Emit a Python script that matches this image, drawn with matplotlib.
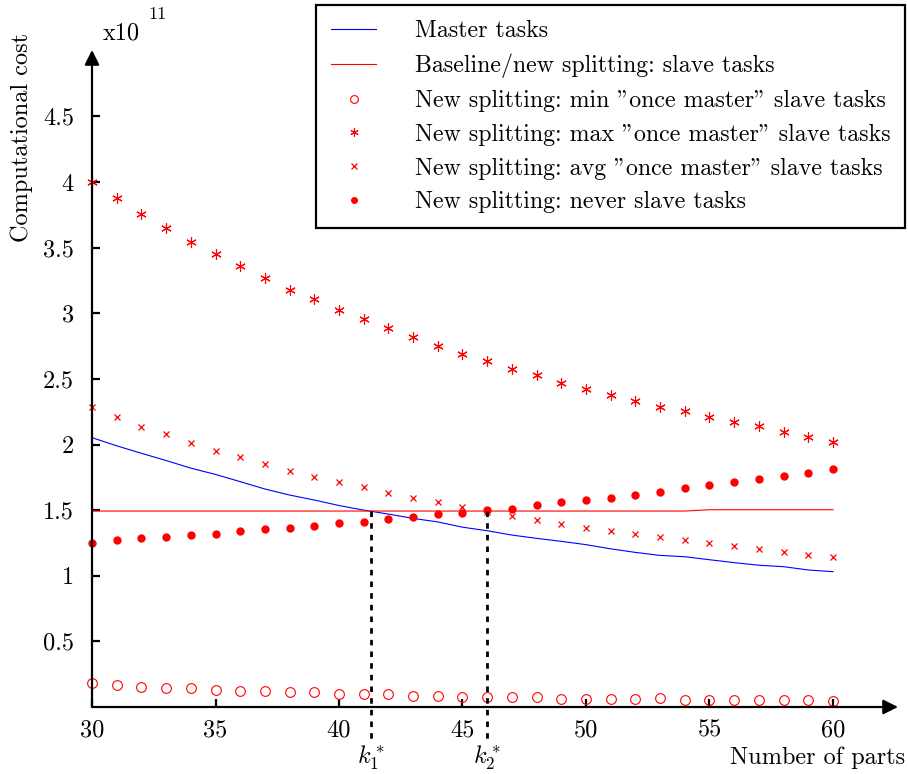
import numpy as np
import matplotlib
matplotlib.use("Agg")
import matplotlib.pyplot as plt

plt.rcParams['font.family'] = 'serif'
plt.rcParams['font.serif'] = ['cmr10']
plt.rcParams['mathtext.fontset'] = 'cm'
plt.rcParams['axes.formatter.use_mathtext'] = True

parts = np.arange(30, 61)

master = [2.052, 1.99, 1.933, 1.878, 1.82, 1.772, 1.717, 1.661, 1.615, 1.577,
          1.535, 1.50, 1.47, 1.437, 1.41, 1.37, 1.343, 1.31, 1.285, 1.262,
          1.237, 1.205, 1.178, 1.155, 1.145, 1.122, 1.10, 1.08, 1.069, 1.044, 1.031]
baseline = [1.493] * 25 + [1.503] * 6
min_once = [0.180, 0.168, 0.155, 0.145, 0.142, 0.132, 0.122, 0.122, 0.112, 0.112,
            0.099, 0.099, 0.097, 0.086, 0.086, 0.076, 0.075, 0.076, 0.076, 0.063,
            0.063, 0.063, 0.063, 0.065, 0.053, 0.053, 0.053, 0.053, 0.053, 0.053, 0.043]
max_once = [4.00, 3.875, 3.76, 3.647, 3.543, 3.449, 3.357, 3.266, 3.175, 3.106,
            3.025, 2.954, 2.885, 2.817, 2.750, 2.690, 2.634, 2.575, 2.527, 2.471,
            2.425, 2.377, 2.334, 2.288, 2.253, 2.207, 2.171, 2.139, 2.093, 2.057, 2.021]
avg_once = [2.288, 2.207, 2.136, 2.08, 2.014, 1.953, 1.907, 1.849, 1.800, 1.755,
            1.712, 1.676, 1.628, 1.595, 1.560, 1.526, 1.488, 1.455, 1.422, 1.397,
            1.361, 1.341, 1.318, 1.295, 1.272, 1.250, 1.227, 1.204, 1.181, 1.158, 1.145]
never = [1.252, 1.272, 1.285, 1.295, 1.308, 1.320, 1.343, 1.354, 1.366, 1.379,
         1.399, 1.412, 1.435, 1.448, 1.469, 1.479, 1.503, 1.512, 1.539, 1.562,
         1.575, 1.595, 1.618, 1.641, 1.666, 1.689, 1.712, 1.735, 1.758, 1.781, 1.816]

k_stars = [41.3, 46.0]
k_labels = [r'$k_1^*$', r'$k_2^*$']
k_top = 1.49

xticks = [30, 35, 40, 45, 50, 55, 60]
yticks = [0.5, 1, 1.5, 2, 2.5, 3, 3.5, 4, 4.5]
ytick_labels = ['0.5', '1', '1.5', '2', '2.5', '3', '3.5', '4', '4.5']

fs = 17.5
W, H = 908, 774
fig = plt.figure(figsize=(W / 100, H / 100), dpi=100)
ax = fig.add_axes([92 / W, (H - 707) / H, (898 - 92) / W, (707 - 50) / H])
ax.set_xlim(30, 30 + 806 / 24.7)
ax.set_ylim(0, 657 / 131.25)

ax.plot(parts, master, color='blue', lw=0.8, label='Master tasks')
ax.plot(parts, baseline, color='red', lw=0.8, label='Baseline/new splitting: slave tasks')
ax.plot(parts, min_once, ls='none', marker='o', ms=7, mfc='none', mec='red', mew=0.8,
        clip_on=False, label='New splitting: min "once master" slave tasks')
ax.plot(parts, max_once, ls='none', marker=(6, 2, 0), ms=7.5, mec='red', mew=0.8,
        clip_on=False, label='New splitting: max "once master" slave tasks')
ax.plot(parts, avg_once, ls='none', marker='x', ms=5, mec='red', mew=0.9,
        clip_on=False, label='New splitting: avg "once master" slave tasks')
ax.plot(parts, never, ls='none', marker='o', ms=5, mfc='red', mec='red',
        clip_on=False, label='New splitting: never slave tasks')

for k, lab in zip(k_stars, k_labels):
    ax.plot([k, k], [k_top, -0.25], color='black', lw=2.0, ls=(0, (2, 2.2)), clip_on=False)
    ax.text(k, -0.28, lab, ha='center', va='top', fontsize=fs)

for s in ax.spines.values():
    s.set_visible(False)
ax.annotate('', xy=(1, 0), xytext=(0, 0), xycoords='axes fraction',
            arrowprops=dict(arrowstyle='-|>', lw=1.6, color='black', mutation_scale=22,
                            shrinkA=0, shrinkB=0))
ax.annotate('', xy=(0, 1), xytext=(0, 0), xycoords='axes fraction',
            arrowprops=dict(arrowstyle='-|>', lw=1.6, color='black', mutation_scale=22,
                            shrinkA=0, shrinkB=0))

ax.set_xticks(xticks)
ax.set_xticklabels([str(t) for t in xticks], fontsize=fs)
ax.set_yticks(yticks)
ax.set_yticklabels(ytick_labels, fontsize=fs)
ax.tick_params(axis='both', direction='in', length=6, width=1.6)
ax.tick_params(axis='x', pad=9)
ax.tick_params(axis='y', pad=13)

fig.text(22 / W, 1 - 137 / H, 'Computational cost', rotation=90, ha='center', va='center', fontsize=fs)
fig.text(905 / W, 1 - 758 / H, 'Number of parts', ha='right', va='center', fontsize=fs)
fig.text(103 / W, 1 - 33 / H, 'x10', ha='left', va='center', fontsize=fs)
fig.text(148 / W, 1 - 14 / H, '11', ha='left', va='center', fontsize=fs * 0.75)

leg = ax.legend(loc='upper right', bbox_to_anchor=(905 / W, 1 - 5 / H), bbox_transform=fig.transFigure,
                borderaxespad=0, fancybox=False, edgecolor='black', framealpha=1,
                fontsize=17.2, numpoints=1, handlelength=1.9, handletextpad=1.6,
                labelspacing=0.49, borderpad=0.62, markerscale=0.8)
leg.get_frame().set_linewidth(1.6)

fig.savefig('out.png', dpi=100)
